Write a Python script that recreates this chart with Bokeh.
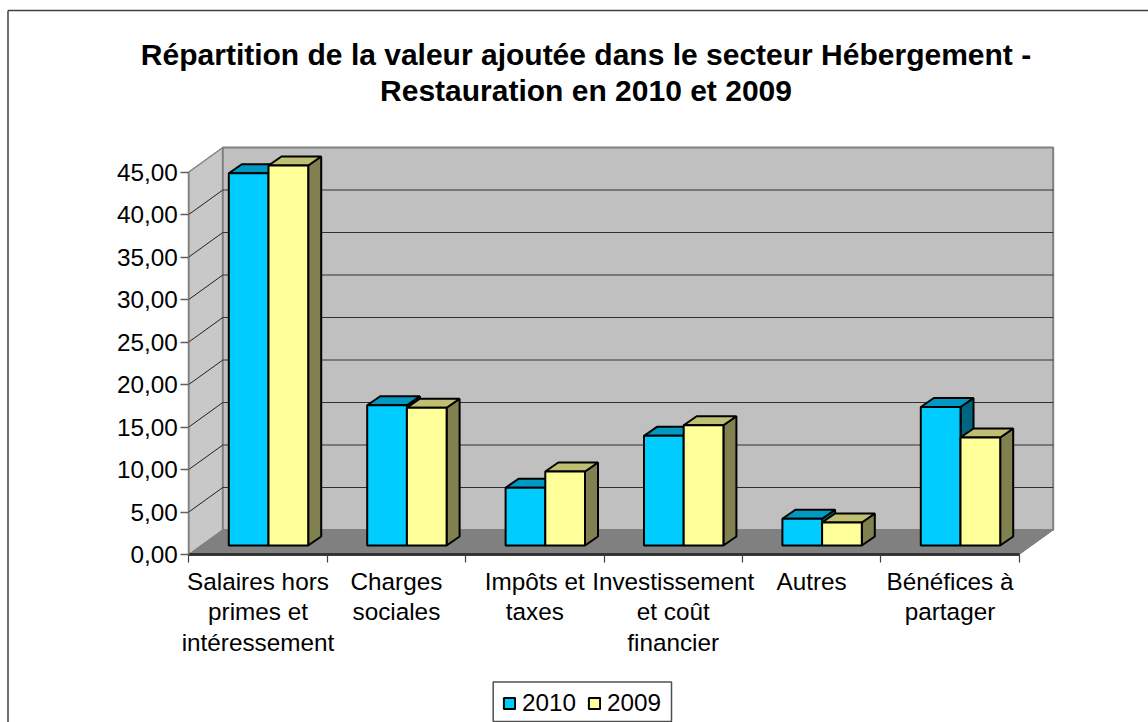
from bokeh.plotting import figure
from bokeh.embed import file_html
from bokeh.resources import INLINE
from bokeh.models import Range1d, FixedTicker, Label, Legend, LegendItem

title_lines = ["Répartition de la valeur ajoutée dans le secteur Hébergement -",
               "Restauration en 2010 et 2009"]
categories = ["Salaires hors\nprimes et\nintéressement", "Charges\nsociales", "Impôts et\ntaxes",
              "Investissement\net coût\nfinancier", "Autres", "Bénéfices à\npartager"]
series_names = ["2010", "2009"]
values_2010 = [43.8, 16.5, 6.8, 12.9, 3.15, 16.3]
values_2009 = [44.7, 16.2, 8.7, 14.15, 2.7, 12.7]
y_ticks = [0, 5, 10, 15, 20, 25, 30, 35, 40, 45]
y_labels = ["0,00", "5,00", "10,00", "15,00", "20,00", "25,00", "30,00", "35,00", "40,00", "45,00"]

# layout: page pixels of the plot origin and scale
W, H = 1148, 722
X0, Y0 = 188.3, 554.0
SX, SY = 138.4, 8.5
FONT = "Liberation Sans"
LABEL_SIZE = "24.3px"

def dx(px): return px / SX
def dy(px): return px / SY
def xp(px): return (px - X0) / SX
def yp(px): return (Y0 - px) / SY

x_start, x_end = xp(0), xp(W)
y_start, y_end = yp(H), yp(0)

p = figure(width=W, height=H, output_backend="svg", toolbar_location=None,
           x_range=Range1d(x_start, x_end), y_range=Range1d(y_start, y_end),
           min_border=0, outline_line_color=None, background_fill_color="white")
p.grid.visible = False

n = len(categories)
WX, WY = dx(34), dy(24.5)
ymax = y_ticks[-1]

# chart frame (top and left edges only)
fx, fy = xp(7.5), yp(10)
p.segment([fx, fx], [fy, fy], [x_end, fx], [fy, y_start], line_color="#404040", line_width=1.5)

# walls and floor
p.patch([0, WX, WX, 0], [0, WY, ymax + WY, ymax], fill_color="#c8c8c8", line_color="#808080", line_width=1.5)
p.quad(left=[WX], right=[n + WX], bottom=[WY], top=[ymax + WY], fill_color="#c0c0c0",
       line_color="#808080", line_width=2)
p.patch([0, n, n + WX, WX], [0, 0, WY, WY], fill_color="#808080", line_color="#808080")

# gridlines on side and back walls
gt = y_ticks[1:-1]
p.segment([0] * len(gt), gt, [WX] * len(gt), [t + WY for t in gt], line_color="#202020", line_width=1)
p.segment([WX] * len(gt), [t + WY for t in gt], [n + WX] * len(gt), [t + WY for t in gt],
          line_color="#303030", line_width=1.2)
p.segment([0], [0], [n], [0], line_color="#303030", line_width=2.5)

# legend box
p.quad(left=[xp(492.7)], right=[xp(671)], bottom=[yp(721)], top=[yp(681.5)], fill_color="white",
       line_color="#505050", line_width=1.5)

# bars
BW = dx(39.7)
FX, FY = dx(10.5), dy(9)
DX, DY = dx(13), dy(9)
EDGE = 2
styles = [("#00CCFF", "#0099C2", "#006680"), ("#FFFF99", "#BFBF73", "#808050")]
legend_items = []
for s, (vals, (front, top, side)) in enumerate(zip([values_2010, values_2009], styles)):
    fr = None
    for i, v in enumerate(vals):
        l = i + 0.5 + FX + (s - 1) * BW
        r = l + BW
        b = FY
        t = FY + v
        p.patch([r, r + DX, r + DX, r], [b, b + DY, t + DY, t], fill_color=side, line_color="black", line_width=EDGE)
        p.patch([l, r, r + DX, l + DX], [t, t, t + DY, t + DY], fill_color=top, line_color="black", line_width=EDGE)
        g = p.quad(left=[l], right=[r], bottom=[b], top=[t], fill_color=front, line_color="black", line_width=EDGE)
        fr = fr or g
    legend_items.append(LegendItem(label=series_names[s], renderers=[fr]))

# axes
ya = p.yaxis[0]
ya.fixed_location = 0
ya.bounds = (0, ymax)
ya.ticker = FixedTicker(ticks=y_ticks)
ya.major_label_overrides = dict(zip(y_ticks, y_labels))
ya.major_label_text_font = FONT
ya.major_label_text_font_size = LABEL_SIZE
ya.major_label_text_color = "black"
ya.axis_line_color = "#808080"
ya.axis_line_width = 1.5
ya.major_tick_line_color = "#606060"
ya.major_tick_line_width = 1.5
ya.major_tick_out = 8
ya.major_tick_in = 0
ya.minor_tick_out = 0
ya.minor_tick_in = 0
ya.major_label_standoff = 3

centers = [i + 0.5 for i in range(n)]
xa = p.xaxis[0]
xa.fixed_location = 0
xa.bounds = (0, n)
xa.ticker = FixedTicker(ticks=centers, minor_ticks=list(range(n + 1)))
xa.major_label_overrides = dict(zip(centers, categories))
xa.major_label_text_font = FONT
xa.major_label_text_font_size = LABEL_SIZE
xa.major_label_text_color = "black"
xa.major_label_text_line_height = 1.13
xa.axis_line_color = "#303030"
xa.axis_line_width = 2.5
xa.major_tick_out = 0
xa.major_tick_in = 0
xa.minor_tick_out = 8
xa.minor_tick_in = 0
xa.minor_tick_line_color = "#404040"
xa.minor_tick_line_width = 1.2
xa.major_label_standoff = 5

# title
for line, ty in zip(title_lines, [54, 90]):
    p.add_layout(Label(x=585.5, y=H - ty, x_units="screen", y_units="screen", text=line,
                       text_font=FONT, text_font_style="bold", text_font_size="30px",
                       text_align="center", text_baseline="middle", text_color="black"))

legend = Legend(items=legend_items, orientation="horizontal", location=(502, 5), margin=0,
                padding=5, spacing=11, glyph_width=14, glyph_height=14, label_standoff=6,
                label_text_font=FONT, label_text_font_size=LABEL_SIZE, label_text_color="black",
                border_line_color=None, background_fill_alpha=0)
p.add_layout(legend)

open("out.html", "w").write(file_html(p, INLINE))
